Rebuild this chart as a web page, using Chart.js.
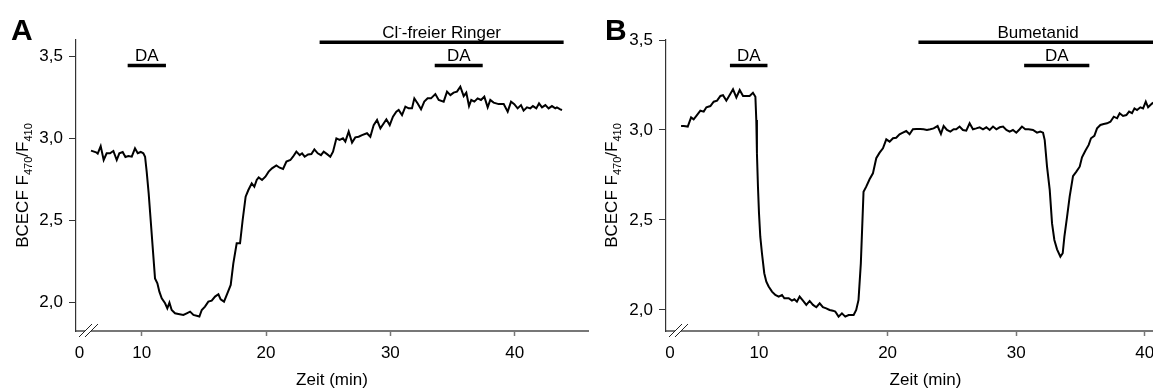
<!DOCTYPE html>
<html lang="de">
<head>
<meta charset="UTF-8">
<title>BCECF F470/F410</title>
<script src="https://cdn.jsdelivr.net/npm/chart.js"></script>
<style>
  html, body { margin: 0; padding: 0; background: #fff; overflow: hidden; }
  body { width: 1153px; height: 389px; position: relative; }
  canvas { position: absolute; top: 0; }
  #panelA { left: 0; }
  #panelB { left: 576px; }
</style>
</head>
<body>
<canvas id="panelA" width="600" height="389"></canvas>
<canvas id="panelB" width="609" height="389"></canvas>

<script>
  // Panel A: Cl- freier Ringer
  const timeA = [5.92, 6.33, 6.46, 6.70, 6.94, 7.18, 7.45, 7.72, 7.99, 8.20, 8.47, 8.69, 8.93, 9.20, 9.46, 9.68, 9.92,
    10.13, 10.27, 10.40, 10.56, 10.72, 10.88, 11.07, 11.26, 11.42, 11.61, 11.88, 12.06, 12.23, 12.41, 12.68, 12.95,
    13.35, 13.62, 13.89, 14.16, 14.64, 14.83, 15.09, 15.36, 15.63, 15.90, 16.17, 16.35, 16.62, 16.89, 17.16, 17.37,
    17.64, 17.91, 18.12, 18.36, 18.58, 18.85, 19.06, 19.25, 19.41, 19.68, 19.95, 20.21, 20.48, 20.83, 21.10, 21.37,
    21.64, 21.96, 22.17, 22.44, 22.71, 22.90, 23.11, 23.38, 23.65, 23.89, 24.16, 24.42, 24.64, 24.91, 25.17, 25.39,
    25.66, 25.92, 26.19, 26.38, 26.65, 26.92, 27.18, 27.45, 27.72, 28.12, 28.39, 28.66, 28.93, 29.20, 29.46, 29.68,
    29.95, 30.21, 30.48, 30.67, 30.94, 31.21, 31.47, 31.74, 31.93, 32.20, 32.47, 32.73, 33.00, 33.27, 33.62, 33.89,
    34.29, 34.56, 34.83, 35.09, 35.36, 35.63, 35.90, 36.11, 36.33, 36.51, 36.76, 37.02, 37.29, 37.56, 37.83, 38.04,
    38.31, 38.71, 39.12, 39.44, 39.71, 39.97, 40.24, 40.51, 40.72, 40.99, 41.26, 41.47, 41.74, 41.96, 42.20, 42.47,
    42.73, 43.00, 43.27, 43.40, 43.67, 43.81];
  const ratioA = [2.927, 2.917, 2.909, 2.955, 2.870, 2.911, 2.911, 2.925, 2.870, 2.911, 2.919, 2.888, 2.894, 2.890, 2.941, 2.911, 2.919,
    2.911, 2.890, 2.799, 2.667, 2.504, 2.341, 2.148, 2.118, 2.067, 2.026, 1.996, 1.965, 2.000, 1.955, 1.935, 1.931,
    1.925, 1.935, 1.945, 1.925, 1.915, 1.955, 1.976, 2.006, 2.012, 2.037, 2.051, 2.020, 2.006, 2.057, 2.108, 2.240,
    2.362, 2.362, 2.504, 2.646, 2.687, 2.728, 2.707, 2.748, 2.764, 2.748, 2.768, 2.799, 2.819, 2.837, 2.823, 2.815,
    2.860, 2.870, 2.890, 2.921, 2.900, 2.911, 2.890, 2.904, 2.906, 2.935, 2.911, 2.900, 2.921, 2.906, 2.890, 2.921,
    3.002, 2.992, 3.002, 2.982, 3.043, 2.976, 3.008, 3.012, 3.022, 3.033, 3.012, 3.083, 3.114, 3.063, 3.093, 3.118,
    3.083, 3.134, 3.165, 3.175, 3.144, 3.195, 3.185, 3.185, 3.246, 3.215, 3.179, 3.226, 3.246, 3.246, 3.272, 3.236,
    3.226, 3.287, 3.266, 3.281, 3.287, 3.317, 3.260, 3.281, 3.199, 3.236, 3.226, 3.246, 3.236, 3.256, 3.191, 3.236,
    3.220, 3.211, 3.211, 3.165, 3.226, 3.211, 3.185, 3.205, 3.171, 3.191, 3.185, 3.199, 3.185, 3.215, 3.191, 3.205,
    3.185, 3.199, 3.185, 3.191, 3.179, 3.175];

  // Panel B: Bumetanid
  const timeB = [3.94, 4.15, 4.46, 4.72, 4.92, 5.13, 5.44, 5.70, 5.91, 6.22, 6.48, 6.74, 7.00, 7.20, 7.46, 7.72, 7.98,
    8.24, 8.50, 8.76, 9.02, 9.27, 9.53, 9.72, 9.79, 9.84, 9.92, 10.00, 10.10, 10.23, 10.41, 10.57, 10.75, 11.01,
    11.27, 11.53, 11.79, 11.97, 12.31, 12.56, 12.75, 12.95, 13.16, 13.42, 13.68, 13.94, 14.20, 14.46, 14.72, 14.97,
    15.23, 15.49, 15.75, 15.93, 16.19, 16.45, 16.71, 16.97, 17.36, 17.56, 17.74, 17.92, 18.13, 18.34, 18.60, 18.86,
    19.12, 19.38, 19.64, 19.90, 20.16, 20.42, 20.67, 20.93, 21.19, 21.45, 21.71, 21.97, 22.23, 22.54, 22.80, 23.06,
    23.32, 23.58, 23.89, 24.15, 24.36, 24.62, 24.88, 25.14, 25.34, 25.60, 25.86, 26.12, 26.38, 26.64, 26.90, 27.16,
    27.42, 27.68, 27.94, 28.20, 28.46, 28.72, 28.98, 29.24, 29.49, 29.75, 30.01, 30.27, 30.45, 30.71, 30.97, 31.31,
    31.62, 31.88, 32.09, 32.22, 32.40, 32.61, 32.79, 32.97, 33.18, 33.44, 33.62, 33.75, 33.96, 34.16, 34.42, 34.68,
    34.94, 35.12, 35.38, 35.64, 35.82, 36.08, 36.29, 36.55, 36.81, 37.07, 37.33, 37.59, 37.85, 38.05, 38.31, 38.57,
    38.78, 39.01, 39.20, 39.40, 39.66, 39.87, 40.08, 40.26, 40.44, 40.65];
  const ratioB = [3.022, 3.022, 3.019, 3.070, 3.059, 3.078, 3.107, 3.102, 3.126, 3.133, 3.157, 3.163, 3.189, 3.193, 3.163, 3.194, 3.226,
    3.181, 3.222, 3.189, 3.189, 3.189, 3.207, 3.185, 3.056, 2.870, 2.685, 2.537, 2.407, 2.315, 2.204, 2.157, 2.130, 2.102,
    2.083, 2.074, 2.083, 2.065, 2.065, 2.052, 2.059, 2.046, 2.074, 2.052, 2.028, 2.050, 2.028, 2.015, 2.037, 2.015,
    2.009, 2.000, 1.996, 1.991, 1.963, 1.981, 1.963, 1.972, 1.972, 2.000, 2.056, 2.259, 2.657, 2.685, 2.726, 2.759,
    2.843, 2.874, 2.898, 2.948, 2.935, 2.954, 2.957, 2.976, 2.985, 2.994, 2.976, 3.004, 3.006, 3.006, 3.004, 3.000,
    3.004, 3.009, 3.022, 2.978, 3.022, 3.000, 2.991, 3.004, 3.004, 3.019, 3.000, 2.996, 3.037, 3.004, 3.009, 3.015,
    3.004, 3.015, 3.000, 3.019, 3.004, 3.015, 3.019, 3.000, 2.991, 3.000, 2.985, 3.004, 3.019, 3.004, 3.004, 3.000,
    2.985, 2.991, 2.985, 2.944, 2.796, 2.667, 2.481, 2.389, 2.337, 2.296, 2.315, 2.407, 2.519, 2.630, 2.744, 2.769,
    2.796, 2.848, 2.885, 2.917, 2.954, 2.967, 3.009, 3.028, 3.033, 3.037, 3.046, 3.074, 3.065, 3.093, 3.078, 3.083,
    3.102, 3.093, 3.120, 3.111, 3.126, 3.120, 3.157, 3.126, 3.139, 3.152];

  // ticks
  const xTicks = [10, 20, 30, 40];
  const yTicks = [2.0, 2.5, 3.0, 3.5];

  // Balken ueber den Kurven (Beginn, Ende in min; Zeile 0 = oben)
  const barLabelA = ['DA', 'Cl^-^-freier Ringer', 'DA'];
  const barStartA = [8.87, 24.31, 33.57];
  const barEndA = [11.95, 43.94, 37.43];
  const barRowA = [1, 0, 1];

  const barLabelB = ['DA', 'Bumetanid', 'DA'];
  const barStartB = [7.74, 22.40, 30.62];
  const barEndB = [10.66, 41.0, 35.69];
  const barRowB = [1, 0, 1];

  const FONT = '"Liberation Sans", Arial, Helvetica, sans-serif';
  Chart.defaults.font.family = FONT;
  Chart.defaults.font.size = 17;
  Chart.defaults.color = '#000';

  // text with ^sup^ and _sub_ parts
  function richText(ctx, text, x, y, size) {
    const segs = text.split(/(\^[^^]*\^|_[^_]*_)/).filter(p => p).map(p => {
      if (p[0] === '^') return { t: p.slice(1, -1), size: size * 0.62, dy: -size * 0.42 };
      if (p[0] === '_') return { t: p.slice(1, -1), size: size * 0.65, dy: size * 0.28 };
      return { t: p, size: size, dy: 0 };
    });
    let w = 0;
    segs.forEach(s => { ctx.font = s.size + 'px ' + FONT; s.w = ctx.measureText(s.t).width; w += s.w; });
    let cx = x - w / 2;
    ctx.textAlign = 'left';
    ctx.textBaseline = 'alphabetic';
    segs.forEach(s => {
      ctx.font = s.size + 'px ' + FONT;
      ctx.fillText(s.t, cx, y + s.dy);
      cx += s.w;
    });
  }

  function decor(cfg) {
    return {
      id: 'decor',
      afterDraw(chart) {
        const ctx = chart.ctx;
        const area = chart.chartArea;
        const xs = chart.scales.x;
        ctx.save();
        ctx.fillStyle = '#000';
        ctx.strokeStyle = '#000';

        // panel letter
        ctx.font = 'bold 30px ' + FONT;
        ctx.textAlign = 'left';
        ctx.textBaseline = 'alphabetic';
        ctx.fillText(cfg.letter, cfg.letterX, 40);

        // y title, rotated
        ctx.save();
        ctx.translate(cfg.yTitleX, (area.top + area.bottom) / 2);
        ctx.rotate(-Math.PI / 2);
        richText(ctx, 'BCECF F_470_/F_410_', 0, 0, 17);
        ctx.restore();

        // x title
        ctx.font = '17px ' + FONT;
        ctx.textAlign = 'center';
        ctx.textBaseline = 'alphabetic';
        ctx.fillText('Zeit (min)', (area.left + area.right) / 2, 385);

        // bars + labels
        const rowY = [42.3, 65.5];
        ctx.lineWidth = 3.5;
        ctx.lineCap = 'butt';
        cfg.barLabel.forEach((lab, i) => {
          const x1 = xs.getPixelForValue(cfg.barStart[i]);
          const x2 = xs.getPixelForValue(cfg.barEnd[i]);
          const y = rowY[cfg.barRow[i]];
          ctx.beginPath();
          ctx.moveTo(x1, y);
          ctx.lineTo(x2, y);
          ctx.stroke();
          richText(ctx, lab, (x1 + x2) / 2, y - 4.5, 17);
        });

        // axis break
        const bx = area.left, by = area.bottom;
        ctx.fillStyle = '#fff';
        ctx.beginPath();
        ctx.moveTo(bx + 3, by + 6);
        ctx.lineTo(bx + 16, by - 7);
        ctx.lineTo(bx + 22, by - 7);
        ctx.lineTo(bx + 9, by + 6);
        ctx.closePath();
        ctx.fill();
        ctx.lineWidth = 1;
        ctx.strokeStyle = '#222';
        ctx.beginPath();
        ctx.moveTo(bx + 3, by + 6);
        ctx.lineTo(bx + 16, by - 7);
        ctx.moveTo(bx + 9, by + 6);
        ctx.lineTo(bx + 22, by - 7);
        ctx.stroke();
        ctx.restore();
      }
    };
  }

  function panel(id, cfg) {
    const points = cfg.time.map((t, i) => ({ x: t, y: cfg.ratio[i] }));
    return new Chart(document.getElementById(id), {
      type: 'line',
      data: {
        datasets: [{
          data: points,
          borderColor: '#000',
          borderWidth: 2,
          pointRadius: 0,
          tension: 0,
          fill: false
        }]
      },
      options: {
        responsive: false,
        animation: false,
        events: [],
        layout: { padding: { top: 40, right: cfg.padRight, left: 0, bottom: 0 } },
        plugins: { legend: { display: false }, tooltip: { enabled: false } },
        scales: {
          x: {
            type: 'linear',
            min: cfg.xMin,
            max: cfg.xMax,
            afterBuildTicks: s => { s.ticks = [cfg.xZero].concat(xTicks).map(v => ({ value: v })); },
            afterFit: s => { s.height = 58; },
            ticks: {
              autoSkip: false,
              maxRotation: 0,
              padding: 7,
              callback: (v, i) => i === 0 ? '0' : String(v)
            },
            grid: {
              drawOnChartArea: false,
              tickLength: 5,
              tickWidth: 1.5,
              tickColor: c => c.index === 0 ? 'rgba(0,0,0,0)' : '#777'
            },
            border: { color: '#777', width: 2 }
          },
          y: {
            min: cfg.yMin,
            max: cfg.yMax,
            afterBuildTicks: s => { s.ticks = yTicks.map(v => ({ value: v })); },
            afterFit: s => { s.width = cfg.yWidth; },
            ticks: {
              padding: 6,
              callback: v => v.toFixed(1).replace('.', ',')
            },
            grid: { drawOnChartArea: false, tickLength: 7, tickColor: '#333' },
            border: { color: '#333', width: 1.2 }
          }
        }
      },
      plugins: [decor(cfg)]
    });
  }

  panel('panelA', {
    time: timeA, ratio: ratioA,
    xMin: 4.714, xMax: 45.9, xZero: 5.0,
    yMin: 1.827, yMax: 3.602,
    yWidth: 76, padRight: 12,
    letter: 'A', letterX: 11, yTitleX: 27.7,
    barLabel: barLabelA, barStart: barStartA, barEnd: barEndA, barRow: barRowA
  });

  panel('panelB', {
    time: timeB, ratio: ratioB,
    xMin: 2.768, xMax: 43.13, xZero: 3.07,
    yMin: 1.883, yMax: 3.5,
    yWidth: 90, padRight: 0,
    letter: 'B', letterX: 29, yTitleX: 40.5,
    barLabel: barLabelB, barStart: barStartB, barEnd: barEndB, barRow: barRowB
  });
</script>
</body>
</html>
